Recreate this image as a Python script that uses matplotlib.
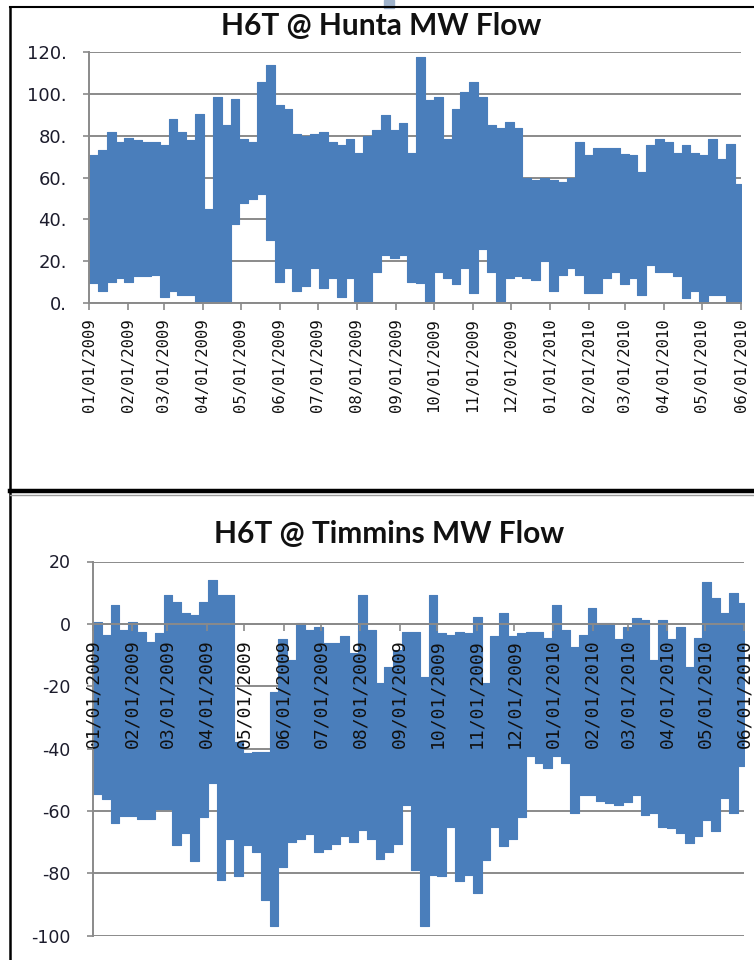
import matplotlib
matplotlib.use("Agg")
import matplotlib.pyplot as plt
import matplotlib.dates as mdates
from matplotlib.lines import Line2D
from matplotlib.patches import Rectangle
import pandas as pd

# weekly envelopes (hourly MW flow)
week_start = pd.date_range("2009-01-01", periods=74, freq="7D")
series_end = pd.Timestamp("2010-06-01")

hunta_high = [70.7, 73, 82, 77, 79, 78, 77, 77, 75.5, 88,
              82, 78, 90.6, 45, 98.6, 85, 97.8, 78.7, 77, 105.7,
              113.7, 94.6, 93, 81, 80, 81, 82, 77, 75.5, 78.7,
              72, 80, 83, 90, 83, 86, 72, 117.6, 97, 98.6,
              78.7, 93, 101, 105.7, 98.6, 85, 84, 86.6, 84, 59.6,
              58.8, 59.6, 58.8, 58, 59.6, 77, 70.7, 74, 74, 74,
              71.5, 70.7, 62.8, 75.5, 78.7, 77, 72, 75.5, 72, 70.7,
              78.7, 69, 76, 57]
hunta_low = [9.5, 5.6, 10, 12, 10, 12.7, 13, 13.5, 3, 5.6,
             4, 4, 0, 0, 0, 0, 38, 48, 50, 52,
             30, 10, 16.7, 5.6, 8, 16.7, 7, 12, 3, 12,
             0, 0, 15, 23, 21.5, 23, 10, 9.5, 0, 15,
             12, 9, 16.7, 4.8, 26, 15, 0.8, 12, 12.7, 12,
             11, 20, 5.6, 13.5, 16.7, 13.5, 4.8, 4.8, 12, 15,
             9, 12, 4, 18, 15, 15, 12.7, 2.4, 5.6, 0,
             4, 4, 0, 0]

timmins_high = [0.7, -3.5, 6, -2, 0.7, -2.5, -5.7, -3, 9.3, 7,
                3.4, 2.9, 7, 14, 9.3, 9.3, -38, -41.4, -41, -41,
                -22, -5, -11.5, 0.2, -2, -1, -6, -6, -4, -9.4,
                9.3, -2, -19, -13.7, -8.3, -2.5, -2.5, -17, 9.3, -3,
                -3.5, -2.5, -3, 2.3, -19, -4, 3.4, -4, -3, -2.5,
                -2.5, -4.6, 6, -2, -7.3, -3.5, 5, 0.2, 0.2, -5,
                -1, 1.8, 1.3, -11.5, 1.3, -5, -1, -13.7, -4.6, 13.5,
                8.2, 3.4, 9.8, 6.6]
timmins_low = [-54.7, -56.3, -64, -61.7, -61.7, -62.7, -62.7, -59.5, -59.5, -71,
               -67, -76, -62, -51, -82, -69, -81, -71, -73, -88.6,
               -97, -78, -70, -69, -67.5, -73, -72.3, -70.7, -68, -70,
               -66, -69, -75.5, -73, -70.7, -58, -78.8, -97, -80.4, -81,
               -65, -82.5, -80.4, -86.2, -75.6, -65, -71.3, -69, -62, -42.5,
               -44.6, -46.2, -42.5, -44.6, -60.6, -55, -55, -56.9, -57.4, -58,
               -57, -55, -61.2, -60.6, -65, -65.4, -67, -70.2, -68, -62.8,
               -66.5, -55.8, -60.6, -45.7]

hunta_ticks = [0, 20, 40, 60, 80, 100, 120]
hunta_ticklabels = ["0.", "20.", "40.", "60.", "80.", "100.", "120."]
timmins_ticks = [-100, -80, -60, -40, -20, 0, 20]
timmins_ticklabels = ["-100", "-80", "-60", "-40", "-20", "0", "20"]

BLUE = "#4a7ebb"
GRID = "#8a8a8a"
TEXT = "#1c1c2c"
W, H = 754, 960


def fx(px):
    return px / W


def fy(py):
    return 1 - py / H


def draw_panel(ax, low, high, ticks, ticklabels, xlabel_size, ylabel_size):
    xs = list(week_start) + [series_end]
    lo = low + [low[-1]]
    hi = high + [high[-1]]
    ax.fill_between(xs, lo, hi, step="post", color=BLUE, edgecolor=BLUE,
                    linewidth=0.8, zorder=1)
    for v in ticks:
        ax.axhline(v, color=GRID, lw=1.4, zorder=0.5)
    ax.set_ylim(ticks[0], ticks[-1])
    ax.set_xlim(pd.Timestamp("2009-01-01"), series_end)
    ax.set_yticks(ticks)
    ax.set_yticklabels(ticklabels)
    ax.xaxis.set_major_locator(mdates.MonthLocator())
    ax.xaxis.set_major_formatter(mdates.DateFormatter("%m/%d/%Y"))
    for s in ["top", "right"]:
        ax.spines[s].set_visible(False)
    for s in ["left", "bottom"]:
        ax.spines[s].set_color(GRID)
        ax.spines[s].set_linewidth(1.4)
    ax.tick_params(axis="y", direction="out", length=4, width=1.2, color=GRID,
                   labelsize=ylabel_size, labelcolor=TEXT, pad=12)
    ax.tick_params(axis="x", direction="out", length=5, width=1.2, color=GRID,
                   labelsize=xlabel_size, labelcolor="#101010", pad=6,
                   labelrotation=90, labelfontfamily="DejaVu Sans Mono")
    ax.set_axisbelow(False)


fig = plt.figure(figsize=(W / 100, H / 100), dpi=100)

# top chart: Hunta
ax1 = fig.add_axes([fx(89), fy(303), fx(741 - 89), (303 - 52.3) / H])
draw_panel(ax1, hunta_low, hunta_high, hunta_ticks, hunta_ticklabels, 11.2, 13)

# bottom chart: Timmins, category axis crosses at zero
ax2 = fig.add_axes([fx(93), fy(935.7), fx(744 - 93), (935.7 - 561.5) / H])
ax2.spines["bottom"].set_position(("data", 0))
draw_panel(ax2, timmins_low, timmins_high, timmins_ticks, timmins_ticklabels, 13, 12.5)

fig.text(fx(381), fy(26), "H6T @ Hunta MW Flow", ha="center", va="center",
         fontsize=21.5, fontweight="bold", family="Lato", color="#111111")
fig.text(fx(389), fy(534), "H6T @ Timmins MW Flow", ha="center", va="center",
         fontsize=21.5, fontweight="bold", family="Lato", color="#111111")

# screenshot frame: borders and separator between the two charts
fig.add_artist(Line2D([fx(10), fx(10)], [fy(7), fy(960)], color="black", lw=1.8))
fig.add_artist(Line2D([fx(10), fx(754)], [fy(7), fy(7)], color="black", lw=1.5))
fig.add_artist(Line2D([fx(10), fx(754)], [fy(491), fy(491)], color="black", lw=3.2))
fig.add_artist(Line2D([fx(10), fx(754)], [fy(495), fy(495)], color="#9a9a9a", lw=1.0))
fig.add_artist(Rectangle((fx(384), fy(8)), fx(10), 8 / H, color="#9fb3cc",
                         transform=fig.transFigure))

fig.savefig("out.png", dpi=100, facecolor="white")
